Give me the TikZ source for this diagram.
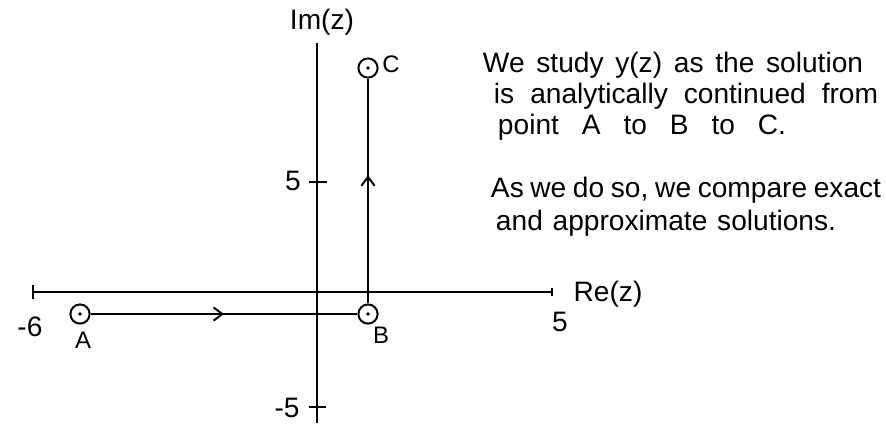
\documentclass[tikz,border=0pt]{standalone}
\usepackage{fontspec}
\setmainfont{Liberation Sans}
\usetikzlibrary{arrows.meta,decorations.markings}
\newcommand\handline[2]{\makebox[#1cm][s]{#2}}

\begin{document}
\begin{tikzpicture}[x=0.025cm, y=-0.025cm, line width=1.4pt, every node/.style={font=\fontsize{20}{24}\selectfont},
	pt/.style={draw, circle, minimum size=0.48cm, inner sep=0pt, path picture={\fill (path picture bounding box.center) circle (1.3pt);}},
	midarrow/.style={postaction={decorate}, decoration={markings, mark=at position #1 with {\arrow{Straight Barb[length=2.2mm, width=3.3mm]}}}},
	lbl/.style={font=\fontsize{17}{20}\selectfont}, txt/.style={anchor=base west, inner sep=0pt, font=\fontsize{20}{24}\selectfont}]
	\useasboundingbox (0,0) rectangle (886,423);
	\coordinate (xl) at (32,292); \coordinate (xr) at (553,292); \coordinate (yt) at (317,43); \coordinate (yb) at (317,423);
	\draw[{Bar[width=3.5mm]}-{Bar[width=2mm]}] (xl) -- (xr);
	\draw (yt) -- (yb);
	\draw (309,182) -- (327,182); \draw (309,407) -- (326,407);
	\node (Im) at (322,22) {Im(z)}; \node[anchor=west] (Re) at (568,294) {Re(z)};
	\node (xmin) at (30,327) {-6}; \node (xmax) at (560,322) {5};
	\node (ymax) at (293,181) {5}; \node (ymin) at (287,408) {-5};
	\node[pt] (A) at (80,314) {}; \node[pt] (B) at (368,314) {}; \node[pt] (C) at (368,68) {};
	\node[lbl] (Alab) at (83,340) {A}; \node[lbl] (Blab) at (381,335) {B}; \node[lbl] (Clab) at (391,64) {C};
	\draw[midarrow=0.5] (A) -- (B);
	\draw[midarrow=0.57] (B) -- (C);
	\node[txt] (t1) at (482,72) {\handline{9.5}{We study y(z) as the solution}};
	\node[txt] (t2) at (493,103) {\handline{9.6}{is analytically continued from}};
	\node[txt] (t3) at (497,134) {\handline{7.2}{point A to B to C.}};
	\node[txt] (t4) at (490,197) {\handline{9.75}{As we do so, we compare exact}};
	\node[txt] (t5) at (495,230) {\handline{8.5}{and approximate solutions.}};
\end{tikzpicture}
\end{document}
